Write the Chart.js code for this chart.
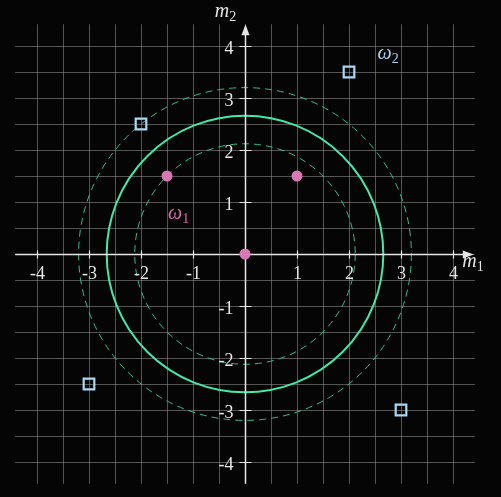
<!DOCTYPE html>
<html>
<head>
<meta charset="utf-8">
<script src="https://cdn.jsdelivr.net/npm/chart.js@4"></script>
<style>
  html, body { margin: 0; padding: 0; background: #050505; }
  #wrap { width: 501px; height: 497px; }
</style>
</head>
<body>
<div id="wrap"><canvas id="chart"></canvas></div>
<script>
// datos
const class1X = [-1.5, 1, 0];
const class1Y = [1.5, 1.5, 0];
const class2X = [-2, 2, -3, 3];
const class2Y = [2.5, 3.5, -2.5, -3];
const circleRadii = [2.12, 2.66, 3.2];
const circleDashed = [true, false, true];
const tickValues = [-4, -3, -2, -1, 1, 2, 3, 4];
const tickLabels = ['-4', '-3', '-2', '-1', '1', '2', '3', '4'];
const gridValues = [-4, -3.5, -3, -2.5, -2, -1.5, -1, -0.5, 0, 0.5, 1, 1.5, 2, 2.5, 3, 3.5, 4];
const gridExtent = 4.42;

const SERIF = '"Liberation Serif", "Times New Roman", serif';

// texto con subíndice
function subText(ctx, main, sub, x, y, size, color) {
    ctx.fillStyle = color;
    ctx.font = 'italic ' + size + 'px ' + SERIF;
    ctx.textAlign = 'left';
    ctx.textBaseline = 'alphabetic';
    ctx.fillText(main, x, y);
    const w = ctx.measureText(main).width;
    ctx.font = Math.round(size * 0.72) + 'px ' + SERIF;
    ctx.fillText(sub, x + w, y + 4);
}

const backdrop = {
    id: 'backdrop',
    beforeDatasetsDraw(chart) {
        const ctx = chart.ctx;
        const xs = chart.scales.x, ys = chart.scales.y;
        const px = v => xs.getPixelForValue(v);
        const py = v => ys.getPixelForValue(v);
        ctx.save();

        // rejilla
        ctx.strokeStyle = 'rgba(150,150,150,0.55)';
        ctx.lineWidth = 1;
        gridValues.forEach(v => {
            ctx.beginPath();
            ctx.moveTo(Math.round(px(v)) + 0.5, py(gridExtent));
            ctx.lineTo(Math.round(px(v)) + 0.5, py(-gridExtent));
            ctx.stroke();
            ctx.beginPath();
            ctx.moveTo(px(-gridExtent), Math.round(py(v)) + 0.5);
            ctx.lineTo(px(gridExtent), Math.round(py(v)) + 0.5);
            ctx.stroke();
        });

        // círculos
        const cx = px(0), cy = py(0);
        circleRadii.forEach((r, i) => {
            const rp = px(r) - cx;
            ctx.beginPath();
            ctx.arc(cx, cy, rp, 0, Math.PI * 2);
            if (circleDashed[i]) {
                ctx.setLineDash([7, 5]);
                ctx.strokeStyle = '#2fbf8f';
                ctx.lineWidth = 1;
            } else {
                ctx.setLineDash([]);
                ctx.strokeStyle = '#44e8aa';
                ctx.lineWidth = 2;
            }
            ctx.stroke();
        });
        ctx.setLineDash([]);

        // ejes
        ctx.strokeStyle = '#e6e6e6';
        ctx.fillStyle = '#e6e6e6';
        ctx.lineWidth = 1.5;
        const ax = Math.round(cx) + 0.5, ay = Math.round(cy) + 0.5;
        ctx.beginPath();
        ctx.moveTo(px(-gridExtent), ay);
        ctx.lineTo(px(4.3), ay);
        ctx.moveTo(ax, py(-gridExtent));
        ctx.lineTo(ax, py(4.3));
        ctx.stroke();
        // flechas
        const tipX = px(4.4), tipY = py(4.42);
        ctx.beginPath();
        ctx.moveTo(tipX, ay);
        ctx.lineTo(tipX - 11, ay - 4);
        ctx.lineTo(tipX - 11, ay + 4);
        ctx.closePath();
        ctx.fill();
        ctx.beginPath();
        ctx.moveTo(ax, tipY);
        ctx.lineTo(ax - 4, tipY + 11);
        ctx.lineTo(ax + 4, tipY + 11);
        ctx.closePath();
        ctx.fill();

        // marcas y etiquetas
        ctx.lineWidth = 1.2;
        ctx.font = '18px ' + SERIF;
        tickValues.forEach((v, i) => {
            const tx = Math.round(px(v)) + 0.5;
            const ty = Math.round(py(v)) + 0.5;
            ctx.beginPath();
            ctx.moveTo(tx, ay - 4);
            ctx.lineTo(tx, ay + 4);
            ctx.moveTo(ax - 6, ty);
            ctx.lineTo(ax + 6, ty);
            ctx.stroke();
            ctx.textAlign = 'center';
            ctx.textBaseline = 'alphabetic';
            ctx.fillText(tickLabels[i], tx, ay + 24);
            ctx.textAlign = 'right';
            ctx.fillText(tickLabels[i], ax - 12, ty + 7);
        });

        // títulos de ejes y clases
        subText(ctx, 'm', '1', px(4.18), py(-0.25), 20, '#e6e6e6');
        subText(ctx, 'm', '2', px(-0.58), py(4.55), 20, '#e6e6e6');
        subText(ctx, 'ω', '1', px(-1.48), py(0.68), 20, '#d070a8');
        subText(ctx, 'ω', '2', px(2.55), py(3.75), 20, '#a8d4f0');
        ctx.restore();
    }
};

new Chart(document.getElementById('chart'), {
    type: 'scatter',
    data: {
        datasets: [
            {
                label: 'ω1',
                data: class1X.map((x, i) => ({ x: x, y: class1Y[i] })),
                pointStyle: 'circle',
                pointRadius: 5.5,
                backgroundColor: '#d878b4',
                borderColor: '#d878b4',
                borderWidth: 0
            },
            {
                label: 'ω2',
                data: class2X.map((x, i) => ({ x: x, y: class2Y[i] })),
                pointStyle: 'rect',
                pointRadius: 7.5,
                backgroundColor: 'rgba(0,0,0,0)',
                borderColor: '#a8d8f4',
                borderWidth: 2.2
            }
        ]
    },
    options: {
        responsive: true,
        maintainAspectRatio: false,
        animation: false,
        layout: { padding: 0, autoPadding: false },
        plugins: {
            legend: { display: false },
            tooltip: { enabled: false }
        },
        scales: {
            x: { type: 'linear', min: -245 / 52, max: 256 / 52, display: false },
            y: { type: 'linear', min: -243 / 52, max: 254 / 52, display: false }
        }
    },
    plugins: [backdrop]
});
</script>
</body>
</html>
